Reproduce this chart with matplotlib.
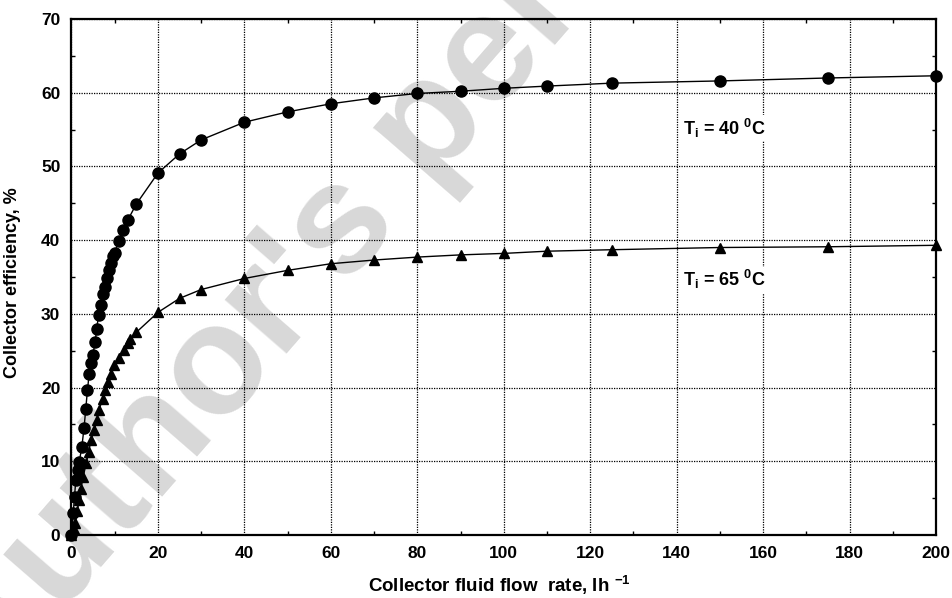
import matplotlib
matplotlib.use("Agg")
import matplotlib.pyplot as plt
from matplotlib.ticker import MultipleLocator

# ---- data ----
flow_40 = [0, 0.4, 0.7, 1.0, 1.4, 1.8, 2.4, 2.9, 3.3, 3.7, 4.1, 4.5, 4.9, 5.5, 5.8, 6.3,
           6.9, 7.4, 7.8, 8.2, 8.6, 9.1, 9.6, 10.0, 10.9, 12.0, 13.0, 15.0, 20, 25, 30,
           40, 50, 60, 70, 80, 90, 100, 110, 125, 150, 175, 200]
eff_40 = [0, 3.0, 5.2, 7.5, 8.8, 9.9, 12.0, 14.5, 17.1, 19.7, 21.9, 23.3, 24.4, 26.2, 28.0,
          29.8, 31.2, 32.7, 33.7, 34.8, 36.0, 36.9, 37.8, 38.2, 39.9, 41.4, 42.7, 44.9,
          49.1, 51.7, 53.6, 56.0, 57.4, 58.5, 59.3, 59.9, 60.2, 60.6, 60.9, 61.3, 61.6,
          62.0, 62.3]

flow_65 = [0, 0.5, 0.9, 1.3, 1.8, 2.2, 2.7, 3.4, 4.0, 4.5, 5.3, 5.8, 6.4, 7.2, 7.8, 8.4,
           9.1, 9.9, 11.1, 12.2, 13.0, 13.6, 15.0, 20, 25, 30, 40, 50, 60, 70, 80, 90,
           100, 110, 125, 150, 175, 200]
eff_65 = [0, 0.8, 1.6, 3.2, 4.7, 6.3, 7.9, 9.7, 11.3, 12.9, 14.2, 15.6, 17.0, 18.5, 19.7,
          20.8, 21.9, 23.1, 24.0, 25.1, 26.0, 26.6, 27.5, 30.2, 32.1, 33.3, 34.8, 35.9,
          36.8, 37.3, 37.7, 38.0, 38.2, 38.5, 38.7, 39.0, 39.1, 39.3]

x_ticks = [0, 20, 40, 60, 80, 100, 120, 140, 160, 180, 200]
y_ticks = [0, 10, 20, 30, 40, 50, 60, 70]

label_40 = r"$\mathbf{T_i}$ = 40 $\mathbf{^0}$C"
label_65 = r"$\mathbf{T_i}$ = 65 $\mathbf{^0}$C"
x_label = r"Collector fluid flow  rate, lh $\mathbf{^{-1}}$"
y_label = "Collector efficiency, %"
watermark = "Author's personal copy"

FAM = ["Liberation Sans", "DejaVu Sans"]
plt.rcParams["font.family"] = FAM
plt.rcParams["font.weight"] = "bold"
plt.rcParams["mathtext.fontset"] = "custom"
plt.rcParams["mathtext.bf"] = "Liberation Sans:bold"
plt.rcParams["mathtext.rm"] = "Liberation Sans:bold"

fig = plt.figure(figsize=(9.52, 5.98), dpi=100)
ax = fig.add_axes([0.0751, 0.1054, 0.9081, 0.8628])

# watermark (behind everything)
fig.text(-0.015, -0.17, watermark, fontsize=112, color="#d8d8d8", rotation=49,
         rotation_mode="anchor", ha="left", va="baseline",
         family=FAM, weight="bold", zorder=-5)
ax.set_facecolor("none")
ax.set_zorder(1)

ax.plot(flow_40, eff_40, color="black", lw=1.0, marker="o", ms=8,
        mfc="black", mec="black", zorder=3, clip_on=False)
ax.plot(flow_65, eff_65, color="black", lw=1.0, marker="^", ms=7.5,
        mfc="black", mec="black", zorder=3, clip_on=False)

ax.set_xlim(0, 200)
ax.set_ylim(0, 70)
ax.set_xticks(x_ticks)
ax.set_yticks(y_ticks)
ax.xaxis.set_minor_locator(MultipleLocator(10))
ax.yaxis.set_minor_locator(MultipleLocator(5))
ax.tick_params(which="both", direction="in", top=True, right=True, colors="black")
ax.tick_params(which="major", length=0, labelsize=12.5, pad=8)
ax.tick_params(which="minor", length=3, width=1)
for lab in ax.get_xticklabels() + ax.get_yticklabels():
    lab.set_fontweight("bold")

ax.grid(True, which="major", color="black", linestyle=(0, (1, 1)), linewidth=0.9)
ax.set_axisbelow(True)
for sp in ax.spines.values():
    sp.set_linewidth(1.6)

ax.set_xlabel(x_label, fontsize=13.5, fontweight="bold")
ax.xaxis.set_label_coords(0.495, -0.075)
ax.set_ylabel(y_label, fontsize=13, fontweight="bold")
ax.yaxis.set_label_coords(-0.058, 0.49)

ax.text(141.5, 55.2, label_40, fontsize=13, fontweight="bold", va="center", ha="left",
        bbox=dict(facecolor="white", edgecolor="none", pad=1))
ax.text(141.5, 34.6, label_65, fontsize=13, fontweight="bold", va="center", ha="left",
        bbox=dict(facecolor="white", edgecolor="none", pad=1))

fig.savefig("out.png", dpi=100)
